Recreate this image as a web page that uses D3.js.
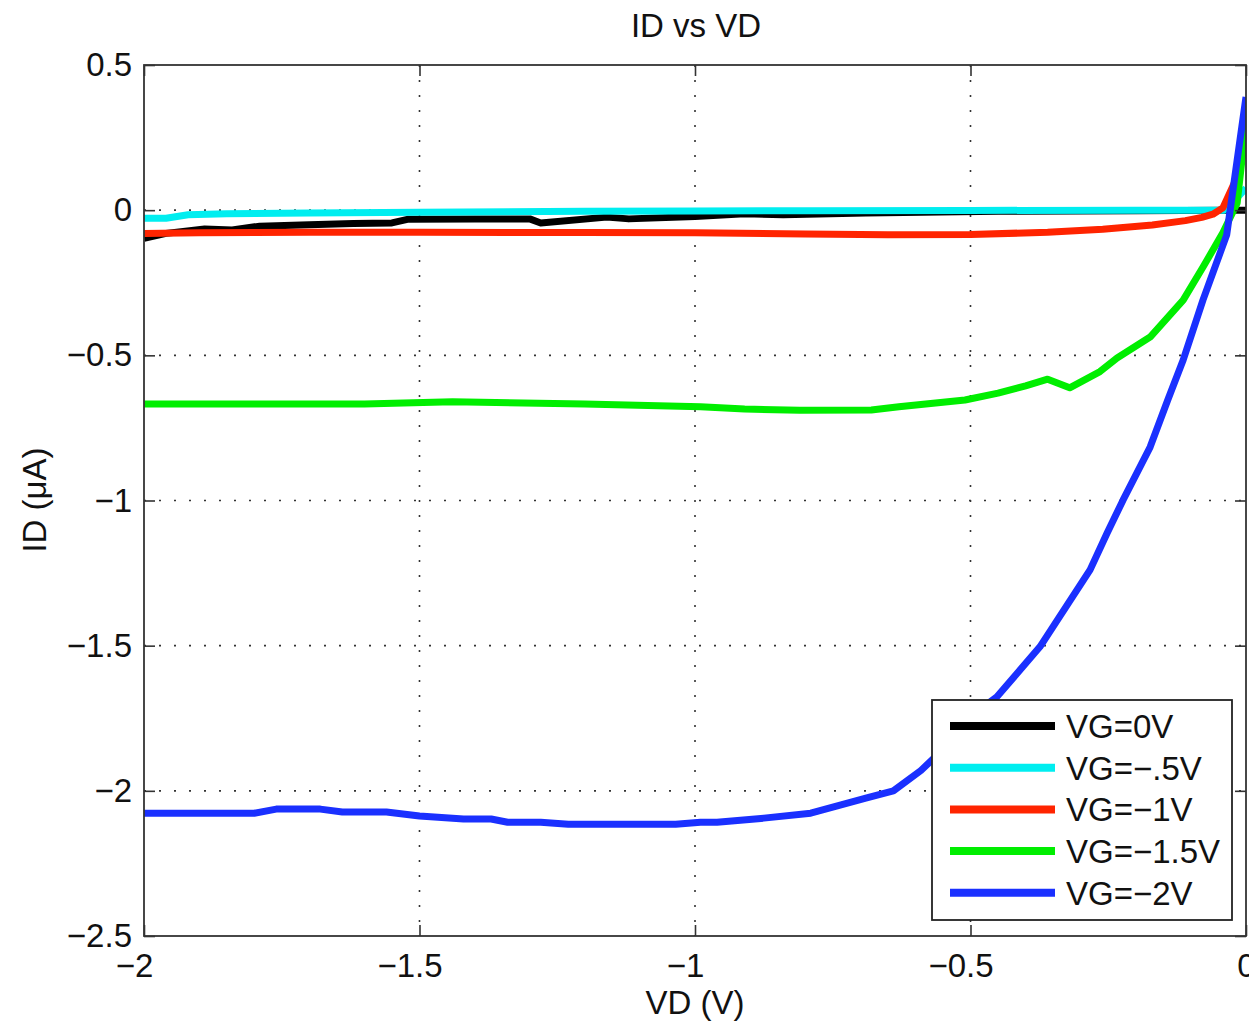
<!DOCTYPE html>
<html>
<head>
<meta charset="utf-8">
<script src="https://cdn.jsdelivr.net/npm/d3@7"></script>
<style>
  body { margin: 0; background: #fff; }
  svg text { font-family: "Liberation Sans", Arial, Helvetica, sans-serif; fill: #111; }
</style>
</head>
<body>
<svg id="chart" width="1249" height="1024"></svg>
<script>
// tick values
const xTicks = [-2, -1.5, -1, -0.5, 0];
const yTicks = [0.5, 0, -0.5, -1, -1.5, -2, -2.5];

const seriesNames = ["VG=0V", "VG=\u2212.5V", "VG=\u22121V", "VG=\u22121.5V", "VG=\u22122V"];
const seriesColors = ["#000000", "#00eef0", "#ff2400", "#00ee00", "#1a30ff"];

// VG = 0V
const vd0 = [-2.0, -1.96, -1.89, -1.84, -1.79, -1.70, -1.62, -1.55, -1.52, -1.40, -1.30, -1.28, -1.16, -1.12, -1.0, -0.91, -0.84, -0.69, -0.45, -0.2, -0.03, 0];
const id0 = [-0.097, -0.080, -0.065, -0.068, -0.055, -0.050, -0.046, -0.044, -0.031, -0.030, -0.030, -0.044, -0.024, -0.030, -0.022, -0.012, -0.016, -0.010, -0.004, -0.002, 0.0, 0.0];

// VG = -0.5V
const vd05 = [-2.0, -1.96, -1.92, -1.85, -1.7, -1.5, -1.2, -1.0, -0.8, -0.5, -0.2, -0.04, -0.02, 0];
const id05 = [-0.028, -0.028, -0.016, -0.012, -0.010, -0.007, -0.004, -0.003, -0.002, -0.001, 0.0, 0.0, 0.035, 0.076];

// VG = -1V
const vd1 = [-2.0, -1.9, -1.7, -1.5, -1.2, -1.0, -0.8, -0.65, -0.5, -0.36, -0.26, -0.17, -0.11, -0.08, -0.06, -0.042, -0.016, 0];
const id1 = [-0.080, -0.078, -0.076, -0.076, -0.077, -0.078, -0.082, -0.085, -0.084, -0.076, -0.066, -0.051, -0.036, -0.025, -0.014, 0.008, 0.115, 0.24];

// VG = -1.5V
const vd15 = [-2.0, -1.6, -1.44, -1.2, -0.99, -0.91, -0.81, -0.68, -0.63, -0.51, -0.45, -0.40, -0.36, -0.32, -0.265, -0.234, -0.174, -0.114, -0.078, -0.042, -0.016, 0];
const id15 = [-0.668, -0.668, -0.660, -0.668, -0.677, -0.685, -0.689, -0.688, -0.677, -0.654, -0.630, -0.605, -0.582, -0.612, -0.556, -0.509, -0.437, -0.310, -0.196, -0.078, 0.025, 0.30];

// VG = -2V
const vd2 = [-2.0, -1.80, -1.76, -1.68, -1.64, -1.56, -1.50, -1.42, -1.37, -1.34, -1.28, -1.23, -1.035, -0.99, -0.96, -0.875, -0.79, -0.69, -0.64, -0.59, -0.54, -0.49, -0.452, -0.374, -0.283, -0.252, -0.223, -0.174, -0.142, -0.114, -0.078, -0.035, 0];
const id2 = [-2.077, -2.077, -2.063, -2.063, -2.073, -2.073, -2.087, -2.097, -2.097, -2.108, -2.108, -2.115, -2.115, -2.108, -2.108, -2.094, -2.077, -2.025, -2.0, -1.93, -1.84, -1.73, -1.676, -1.504, -1.239, -1.112, -0.998, -0.816, -0.654, -0.516, -0.309, -0.085, 0.39];

const seriesX = [vd0, vd05, vd1, vd15, vd2];
const seriesY = [id0, id05, id1, id15, id2];

var svg = d3.select("#chart");
var mLeft = 144, mTop = 65, mRight = 1246, mBottom = 936;
var fs = 33;

var x = d3.scaleLinear().domain([-2, 0]).range([mLeft, mRight]);
var y = d3.scaleLinear().domain([-2.5, 0.5]).range([mBottom, mTop]);
var fmt = d3.format("");

// title
svg.append("text")
  .attr("x", 696).attr("y", 37)
  .attr("text-anchor", "middle")
  .attr("font-size", fs)
  .text("ID vs VD");

// grid
var grid = svg.append("g").attr("stroke", "#333").attr("stroke-width", 1.6).attr("stroke-dasharray", "2,13");
grid.selectAll(".gx").data(xTicks.slice(1, -1)).enter().append("line")
  .attr("x1", d => x(d)).attr("x2", d => x(d))
  .attr("y1", mTop).attr("y2", mBottom);
grid.selectAll(".gy").data(yTicks.slice(1, -1)).enter().append("line")
  .attr("x1", mLeft).attr("x2", mRight)
  .attr("y1", d => y(d)).attr("y2", d => y(d));

// clip
svg.append("clipPath").attr("id", "plotclip")
  .append("rect").attr("x", mLeft).attr("y", mTop)
  .attr("width", mRight - mLeft).attr("height", mBottom - mTop);

var line = d3.line().x(d => x(d[0])).y(d => y(d[1]));
var lines = svg.append("g").attr("clip-path", "url(#plotclip)");
seriesX.forEach(function(xs, i) {
  var pts = xs.map((v, j) => [v, seriesY[i][j]]);
  lines.append("path")
    .datum(pts)
    .attr("d", line)
    .attr("fill", "none")
    .attr("stroke", seriesColors[i])
    .attr("stroke-width", 7)
    .attr("stroke-linejoin", "round");
});

// axes
function styleAxis(g) {
  g.select(".domain").remove();
  g.selectAll(".tick line").attr("stroke", "#333").attr("stroke-width", 1.6);
  g.selectAll(".tick text").attr("font-size", fs).attr("fill", "#111")
    .attr("font-family", "Liberation Sans, Arial, sans-serif");
}

var xAxis = svg.append("g")
  .attr("transform", "translate(0," + mBottom + ")")
  .call(d3.axisBottom(x).tickValues(xTicks).tickFormat(fmt).tickSize(-11).tickPadding(18));
styleAxis(xAxis);
xAxis.selectAll(".tick text").attr("dx", d => d < 0 ? -10 : 0);

var xTop = svg.append("g")
  .attr("transform", "translate(0," + mTop + ")")
  .call(d3.axisTop(x).tickValues(xTicks).tickSize(-11).tickFormat(""));
styleAxis(xTop);

var yAxis = svg.append("g")
  .attr("transform", "translate(" + mLeft + ",0)")
  .call(d3.axisLeft(y).tickValues(yTicks).tickFormat(fmt).tickSize(-11).tickPadding(12));
styleAxis(yAxis);

var yRight = svg.append("g")
  .attr("transform", "translate(" + mRight + ",0)")
  .call(d3.axisRight(y).tickValues(yTicks).tickSize(-11).tickFormat(""));
styleAxis(yRight);

// box
svg.append("rect")
  .attr("x", mLeft).attr("y", mTop)
  .attr("width", mRight - mLeft).attr("height", mBottom - mTop)
  .attr("fill", "none").attr("stroke", "#333").attr("stroke-width", 1.8);

// axis labels
svg.append("text")
  .attr("x", 695).attr("y", 1014)
  .attr("text-anchor", "middle")
  .attr("font-size", fs)
  .text("VD (V)");

svg.append("text")
  .attr("transform", "translate(46,500) rotate(-90)")
  .attr("text-anchor", "middle")
  .attr("font-size", fs)
  .text("ID (\u03bcA)");

// legend
var lg = svg.append("g");
lg.append("rect")
  .attr("x", 932).attr("y", 700)
  .attr("width", 300).attr("height", 220)
  .attr("fill", "#fff").attr("stroke", "#222").attr("stroke-width", 1.8);
seriesNames.forEach(function(name, i) {
  var cy = 726 + i * 41.7;
  lg.append("line")
    .attr("x1", 950).attr("x2", 1055)
    .attr("y1", cy).attr("y2", cy)
    .attr("stroke", seriesColors[i]).attr("stroke-width", 8);
  lg.append("text")
    .attr("x", 1066).attr("y", cy + 12)
    .attr("font-size", fs)
    .text(name);
});
</script>
</body>
</html>
